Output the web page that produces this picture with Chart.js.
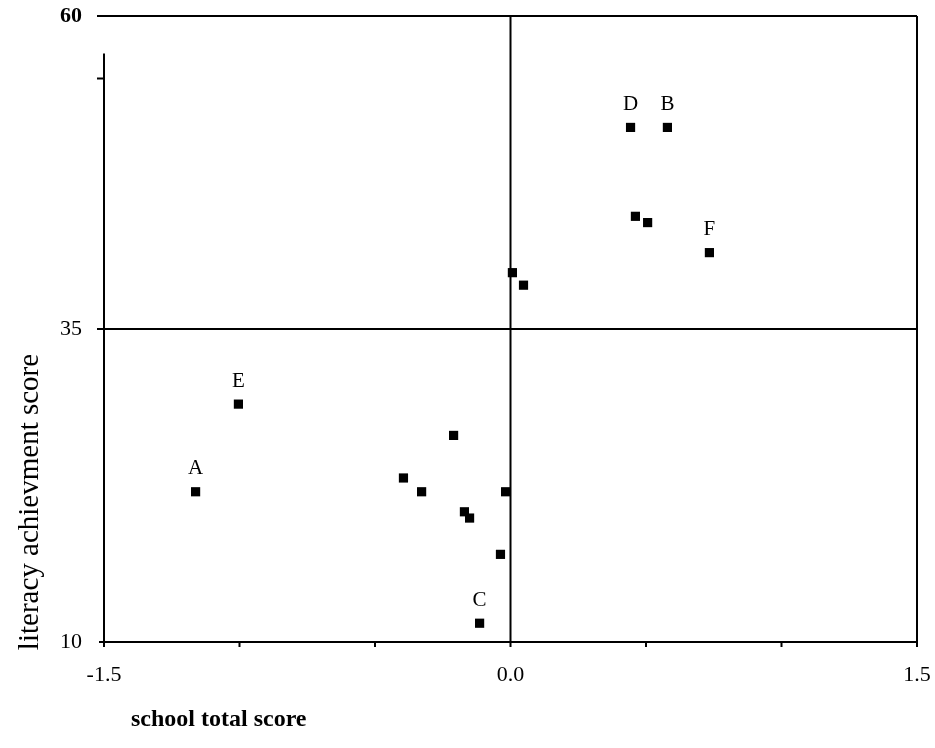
<!DOCTYPE html>
<html>
<head>
<meta charset="utf-8">
<script src="https://cdn.jsdelivr.net/npm/chart.js@4"></script>
<style>
  html, body { margin: 0; padding: 0; background: #fff; }
  #wrap { width: 935px; height: 748px; }
</style>
</head>
<body>
<div id="wrap"><canvas id="chart" width="935" height="748"></canvas></div>
<script>
// school total score (x) vs literacy achievement score (y)
const schoolScores = [0.443, 0.579, 0.461, 0.506, 0.734, 0.007, 0.048, -1.004, -0.21, -1.162, -0.395, -0.328, -0.17, -0.151, -0.018, -0.037, -0.114];
const literacyScores = [51.1, 51.1, 44.0, 43.5, 41.1, 39.5, 38.5, 29.0, 26.5, 22.0, 23.1, 22.0, 20.4, 19.9, 22.0, 17.0, 11.5];
const pointNames = ['D', 'B', '', '', 'F', '', '', 'E', '', 'A', '', '', '', '', '', '', 'C'];

const xTicks = [-1.5, -1.0, -0.5, 0.0, 0.5, 1.0, 1.5];
const xTickLabels = ['-1.5', '', '', '0.0', '', '', '1.5'];
const yTicks = [10, 35, 60];
const yTickLabels = ['10', '35', '60'];

const serif = '"Liberation Serif", "DejaVu Serif", serif';

// frame, quadrant lines, point letters and axis titles
const decorations = {
    id: 'decorations',
    afterDraw(chart) {
        const ctx = chart.ctx;
        const xs = chart.scales.x;
        const ys = chart.scales.y;
        const x0 = xs.getPixelForValue(-1.5);
        const x1 = xs.getPixelForValue(1.5);
        const xMid = xs.getPixelForValue(0);
        const yTop = ys.getPixelForValue(60);
        const yBot = ys.getPixelForValue(10);
        const yMid = ys.getPixelForValue(35);

        ctx.save();
        ctx.strokeStyle = '#000';
        ctx.lineWidth = 2;
        ctx.beginPath();
        // top line, starting a bit left of the axis
        ctx.moveTo(x0 - 7, yTop); ctx.lineTo(x1, yTop);
        // right border
        ctx.moveTo(x1, yTop); ctx.lineTo(x1, yBot);
        // left axis (starts below the top)
        ctx.moveTo(x0, ys.getPixelForValue(57)); ctx.lineTo(x0, yBot);
        // bottom axis
        ctx.moveTo(x0, yBot); ctx.lineTo(x1, yBot);
        // quadrant lines
        ctx.moveTo(xMid, yTop); ctx.lineTo(xMid, yBot + 5);
        ctx.moveTo(x0 - 7, yMid); ctx.lineTo(x1, yMid);
        // small ticks
        ctx.moveTo(x0 - 7, ys.getPixelForValue(55)); ctx.lineTo(x0, ys.getPixelForValue(55));
        ctx.moveTo(x0 - 5, yBot); ctx.lineTo(x0, yBot);
        xTicks.forEach(v => {
            const px = xs.getPixelForValue(v);
            ctx.moveTo(px, yBot); ctx.lineTo(px, yBot + 5);
        });
        ctx.stroke();

        // letters above the named schools
        ctx.fillStyle = '#000';
        ctx.font = '21px ' + serif;
        ctx.textAlign = 'center';
        ctx.textBaseline = 'middle';
        pointNames.forEach((name, i) => {
            if (!name) return;
            const px = xs.getPixelForValue(schoolScores[i]);
            const py = ys.getPixelForValue(literacyScores[i]);
            ctx.fillText(name, px, py - 23);
        });

        // x title, bold, left of center
        ctx.font = 'bold 24px ' + serif;
        ctx.textAlign = 'left';
        ctx.fillText('school total score', 131, 720);

        // y title, rotated
        ctx.translate(30, 502);
        ctx.rotate(-Math.PI / 2);
        ctx.font = '29px ' + serif;
        ctx.textAlign = 'center';
        ctx.fillText('literacy achievment score', 0, 0);
        ctx.restore();
    }
};

new Chart(document.getElementById('chart'), {
    type: 'scatter',
    data: {
        datasets: [{
            data: schoolScores.map((x, i) => ({ x: x, y: literacyScores[i] })),
            pointStyle: 'rect',
            pointRadius: 6.5,
            pointHoverRadius: 6.5,
            backgroundColor: '#000',
            borderColor: '#000',
            borderWidth: 0
        }]
    },
    options: {
        responsive: false,
        animation: false,
        events: [],
        layout: { padding: { top: 16, right: 18, left: 0, bottom: 0 } },
        plugins: {
            legend: { display: false },
            tooltip: { enabled: false }
        },
        scales: {
            x: {
                type: 'linear',
                min: -1.5,
                max: 1.5,
                afterBuildTicks: scale => { scale.ticks = xTicks.map(v => ({ value: v })); },
                afterFit: scale => {
                    scale.height = 106;
                    scale.paddingLeft = 0;
                    scale.paddingRight = 0;
                },
                grid: { display: false },
                border: { display: false },
                ticks: {
                    autoSkip: false,
                    maxRotation: 0,
                    padding: 12,
                    color: '#000',
                    font: { family: serif, size: 22 },
                    callback: (v, i) => xTickLabels[i]
                }
            },
            y: {
                type: 'linear',
                min: 10,
                max: 60,
                afterBuildTicks: scale => { scale.ticks = yTicks.map(v => ({ value: v })); },
                afterFit: scale => {
                    scale.width = 104;
                    scale.paddingTop = 0;
                    scale.paddingBottom = 0;
                },
                grid: { display: false },
                border: { display: false },
                ticks: {
                    autoSkip: false,
                    padding: 14,
                    color: '#000',
                    font: ctx => ({ family: serif, size: 22, weight: ctx.tick && ctx.tick.value === 60 ? 'bold' : 'normal' }),
                    callback: (v, i) => yTickLabels[i]
                }
            }
        }
    },
    plugins: [decorations]
});
</script>
</body>
</html>
